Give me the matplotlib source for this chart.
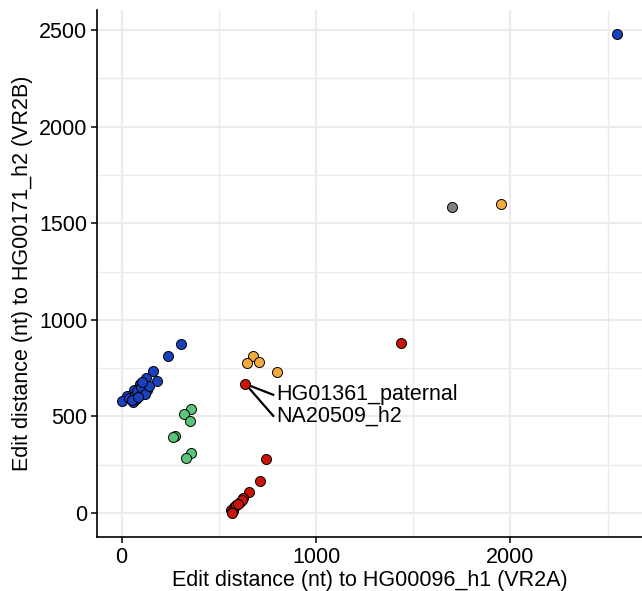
import matplotlib
matplotlib.use('Agg')
import matplotlib.pyplot as plt

plt.rcParams['font.family'] = ['Liberation Sans', 'DejaVu Sans']

# edit distances, grouped by colour
blue_x = [2548, 304, 240, 163, 183, 127, 97, 132, 63, 94, 29, 0, 58, 40, 71, 81, 111, 101, 76, 51, 121, 86, 142, 106]
blue_y = [2480, 875, 815, 735, 685, 700, 668, 638, 636, 612, 606, 578, 575, 598, 610, 630, 620, 650, 590, 585, 615, 600, 660, 680]
green_x = [359, 319, 354, 273, 266, 359, 329]
green_y = [540, 512, 477, 400, 393, 312, 287]
orange_x = [675, 643, 708, 800, 1952]
orange_y = [815, 775, 780, 728, 1600]
grey_x = [1700]
grey_y = [1585]
red_x = [744, 710, 654, 626, 577, 562, 567, 572, 587, 607, 617, 597, 569, 1437, 637]
red_y = [280, 166, 108, 80, 33, 16, 5, 10, 40, 55, 68, 45, 0, 878, 668]

lab_point = (637, 668)
labels = ['HG01361_paternal', 'NA20509_h2']
label_y = [612, 503]

groups = [
    (blue_x, blue_y, '#1C3FBE'),
    (green_x, green_y, '#5CC47A'),
    (orange_x, orange_y, '#F5AA3C'),
    (grey_x, grey_y, '#7F7F7F'),
    (red_x, red_y, '#C91408'),
]

fig = plt.figure(figsize=(6.42, 5.91), dpi=100)
ax = fig.add_axes([0.151, 0.0914, 0.849, 0.892])

for gx, gy, col in groups:
    ax.scatter(gx, gy, s=52, c=col, edgecolors='black', linewidths=0.7, zorder=3)

# label lines
for txt, ty in zip(labels, label_y):
    ax.plot([lab_point[0], 780], [lab_point[1], ty], color='black', lw=1.6, zorder=2)
    ax.text(795, ty, txt, fontsize=15.5, va='center', ha='left', zorder=4)

ax.set_xlim(-127, 2677)
ax.set_ylim(-124, 2605)
ax.set_xticks([0, 1000, 2000])
ax.set_yticks([0, 500, 1000, 1500, 2000, 2500])
ax.set_xticks([500, 1500, 2500], minor=True)
ax.set_yticks([250, 750, 1250, 1750, 2250], minor=True)
ax.grid(True, which='major', color='#EBEBEB', lw=1.5, zorder=0)
ax.grid(True, which='minor', color='#EBEBEB', lw=1.0, zorder=0)
ax.set_axisbelow(True)
for s in ['top', 'right']:
    ax.spines[s].set_visible(False)
for s in ['left', 'bottom']:
    ax.spines[s].set_linewidth(1.2)
ax.tick_params(which='major', length=4, width=1.1, labelsize=15.5, colors='black', pad=3)
ax.tick_params(which='minor', length=0)
ax.set_xlabel('Edit distance (nt) to HG00096_h1 (VR2A)', fontsize=15.5, labelpad=2)
ax.set_ylabel('Edit distance (nt) to HG00171_h2 (VR2B)', fontsize=15.5, labelpad=4)

fig.savefig('out.png', dpi=100)
